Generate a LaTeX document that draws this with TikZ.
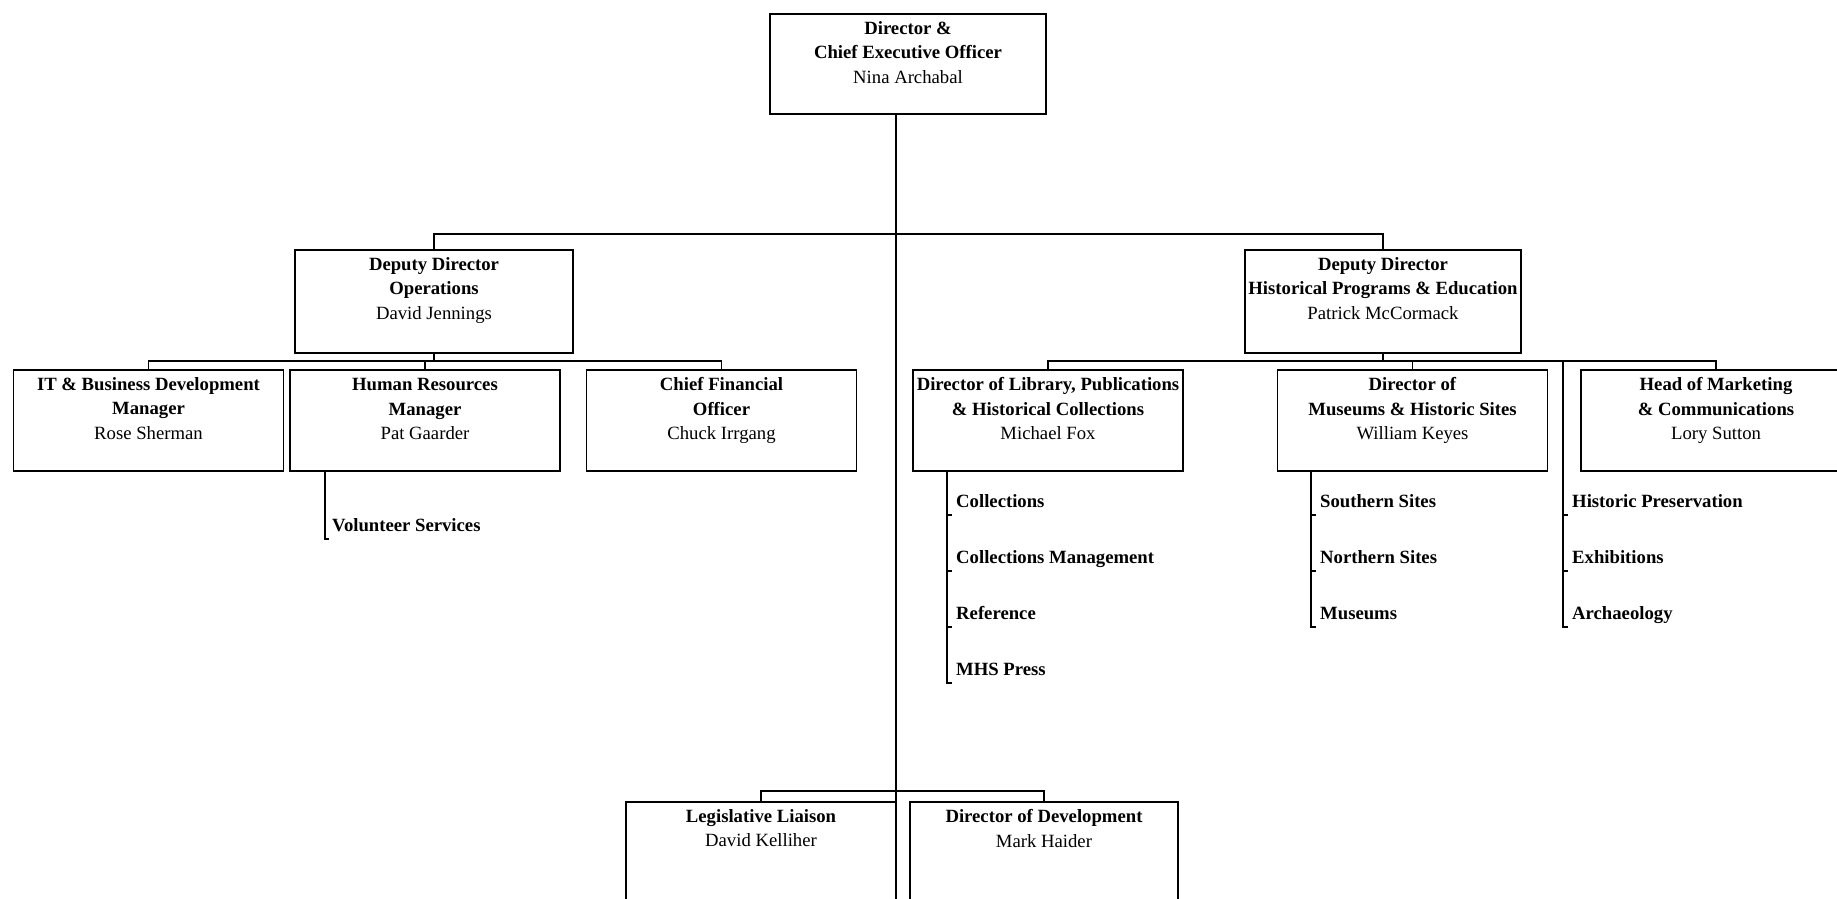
\documentclass[tikz,border=0pt]{standalone}
\usepackage{fontspec}
\setmainfont{Liberation Serif}
\usetikzlibrary{positioning}
\tikzset{
  post/.style={draw, line width=1.8pt, minimum width=270pt, minimum height=101pt, inner sep=0pt},
  posttext/.style={align=center, inner sep=0pt, font=\fontsize{18.7pt}{24.6pt}\selectfont},
  unit/.style={anchor=south west, inner xsep=4pt, inner ysep=0pt, text depth=7pt, font=\fontsize{18.7pt}{24pt}\selectfont\bfseries},
  link/.style={line width=1.8pt},
}
\begin{document}
\begin{tikzpicture}[x=1pt, y=-1pt]
  \useasboundingbox (0,0) rectangle (1837,899);
  \clip (0,0) rectangle (1837,899);
  % Director
  \node[post, minimum width=276pt, minimum height=100pt] (ceo) at (908,64) {};
  \node[posttext, below=8pt of ceo.north] (ceo-t) {\textbf{Director \&}\\\textbf{Chief Executive Officer}\\Nina Archabal};
  % Deputies
  \node[post, minimum width=278pt, minimum height=103pt] (ops) at (434,301.5) {};
  \node[posttext, below=8pt of ops.north] (ops-t) {\textbf{Deputy Director}\\\textbf{Operations}\\David Jennings};
  \node[post, minimum width=276pt, minimum height=103pt] (hpe) at (1383,301.5) {};
  \node[posttext, below=8pt of hpe.north] (hpe-t) {\textbf{Deputy Director}\\\textbf{Historical Programs \& Education}\\Patrick McCormack};
  % Operations staff
  \node[post] (it) at (148.5,420.5) {};
  \node[posttext, below=8pt of it.north] (it-t) {\textbf{IT \& Business Development}\\\textbf{Manager}\\Rose Sherman};
  \node[post] (hr) at (425,420.5) {};
  \node[posttext, below=9pt of hr.north] (hr-t) {\textbf{Human Resources}\\\textbf{Manager}\\Pat Gaarder};
  \node[post] (cfo) at (721.5,420.5) {};
  \node[posttext, below=8pt of cfo.north] (cfo-t) {\textbf{Chief Financial}\\\textbf{Officer}\\Chuck Irrgang};
  % Programs staff
  \node[post] (lib) at (1048,420.5) {};
  \node[posttext, below=8pt of lib.north] (lib-t) {\textbf{Director of Library, Publications}\\\textbf{\& Historical Collections}\\Michael Fox};
  \node[post] (mus) at (1412.5,420.5) {};
  \node[posttext, below=8pt of mus.north] (mus-t) {\textbf{Director of}\\\textbf{Museums \& Historic Sites}\\William Keyes};
  \node[post] (mkt) at (1716,420.5) {};
  \node[posttext, below=8pt of mkt.north] (mkt-t) {\textbf{Head of Marketing}\\\textbf{\& Communications}\\Lory Sutton};
  % Bottom row
  \node[post, minimum height=100pt] (ll) at (761,852) {};
  \node[posttext, below=8pt of ll.north] (ll-t) {\textbf{Legislative Liaison}\\David Kelliher};
  \node[post, minimum width=268pt, minimum height=100pt] (dev) at (1044,852) {};
  \node[posttext, below=8pt of dev.north] (dev-t) {\textbf{Director of Development}\\Mark Haider};
  % Units
  \node[unit, inner xsep=3pt] (vol) at (329,539) {Volunteer Services};
  \node[unit] (coll) at (952,515) {Collections};
  \node[unit] (cman) at (952,571) {Collections Management};
  \node[unit] (ref) at (952,627) {Reference};
  \node[unit] (press) at (952,683) {MHS Press};
  \node[unit] (south) at (1316,515) {Southern Sites};
  \node[unit] (north) at (1316,571) {Northern Sites};
  \node[unit] (museums) at (1316,627) {Museums};
  \node[unit] (hist) at (1568,515) {Historic Preservation};
  \node[unit] (exhib) at (1568,571) {Exhibitions};
  \node[unit] (arch) at (1568,627) {Archaeology};
  % Trunk and bars
  \coordinate (foot) at (896,905);
  \draw[link] (ceo.south -| foot) -- (foot);
  \draw[link] (ops.north) -- ++(0,-15) -| (hpe.north);
  \draw[link] (ops.south) -- ++(0,7) coordinate (ops-bar);
  \draw[link] (it.north) |- (ops-bar) -| (cfo.north);
  \draw[link] (hr.north) -- (hr.north |- ops-bar);
  \draw[link] (hpe.south) -- ++(0,7) coordinate (hpe-bar);
  \draw[link] (lib.north) |- (hpe-bar) -| (mkt.north);
  \draw[link] (mus.north) -- (mus.north |- hpe-bar);
  \draw[link] (ll.north) -- ++(0,-10) -| (dev.north);
  % Unit spines
  \draw[link] (hr.south -| 325,0) |- (vol.south west);
  \draw[link] (lib.south -| 947,0) |- (press.south west);
  \draw[link] (coll.south west) -- ++(-5,0);
  \draw[link] (cman.south west) -- ++(-5,0);
  \draw[link] (ref.south west) -- ++(-5,0);
  \draw[link] (mus.south -| 1311,0) |- (museums.south west);
  \draw[link] (south.south west) -- ++(-5,0);
  \draw[link] (north.south west) -- ++(-5,0);
  \draw[link] (hpe-bar -| 1563,0) |- (arch.south west);
  \draw[link] (hist.south west) -- ++(-5,0);
  \draw[link] (exhib.south west) -- ++(-5,0);
\end{tikzpicture}
\end{document}
